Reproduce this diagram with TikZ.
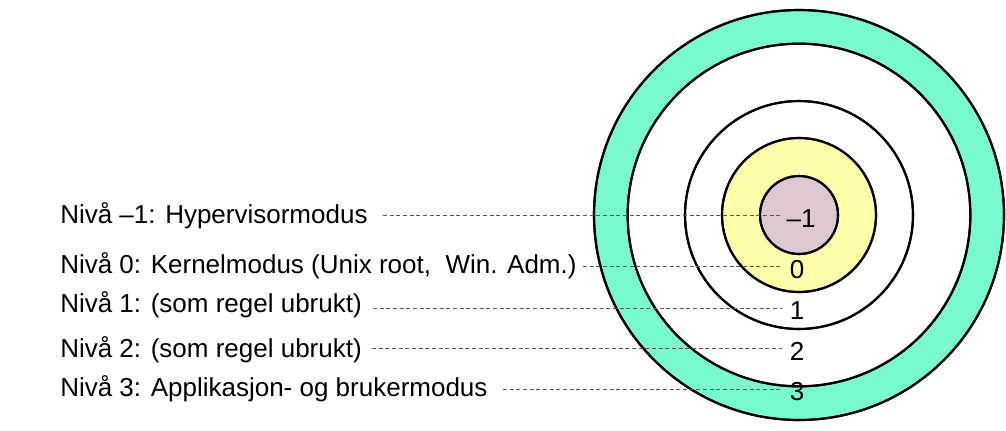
\documentclass[tikz,border=0pt]{standalone}
\usepackage{fontspec}
\setmainfont{Liberation Sans}
\begin{document}
\begin{tikzpicture}[x=0.75pt,y=-0.75pt,
  ring/.style={draw=black,line width=1.6pt},
  lbl/.style={anchor=west,font=\fontsize{15.3}{18}\selectfont,inner sep=0pt},
  num/.style={font=\fontsize{15.3}{18}\selectfont,inner sep=1pt},
  lead/.style={draw=black!65,line width=0.6pt,dash pattern=on 3pt off 2pt}]
\useasboundingbox (0,0) rectangle (1006,430);
\coordinate (c) at (799,215);
\fill[ring,fill={rgb,255:red,120;green,250;blue,205}] (c) circle[radius=153.75pt];
\fill[ring,fill=white] (c) circle[radius=128.5pt];
\fill[ring,fill=white] (c) circle[radius=85.5pt];
\fill[ring,fill={rgb,255:red,255;green,255;blue,170}] (c) circle[radius=57.75pt];
\fill[ring,fill={rgb,255:red,222;green,200;blue,208}] (c) circle[radius=29.25pt];
\draw[ring] (c) circle[radius=153.75pt] (c) circle[radius=128.5pt] (c) circle[radius=85.5pt] (c) circle[radius=57.75pt] (c) circle[radius=29.25pt];
\node[lbl,font=\fontsize{19.5}{22}\selectfont] (l1) at (60,216) {Nivå –1: Hypervisormodus};
\node[lbl,font=\fontsize{19.5}{22}\selectfont] (l0) at (60,266) {Nivå 0: Kernelmodus (Unix root,\ \ Win. Adm.)};
\node[lbl,font=\fontsize{19.5}{22}\selectfont] (la) at (60,305) {Nivå 1: (som regel ubrukt)};
\node[lbl,font=\fontsize{19.5}{22}\selectfont] (lb) at (60,350) {Nivå 2: (som regel ubrukt)};
\node[lbl,font=\fontsize{19.5}{22}\selectfont] (lc) at (60,389) {Nivå 3: Applikasjon- og brukermodus};
\node[num,font=\fontsize{19.5}{22}\selectfont] (n1) at (801,219) {–1};
\node[num,font=\fontsize{19.5}{22}\selectfont] (n0) at (797,270) {0};
\node[num,font=\fontsize{19.5}{22}\selectfont] (na) at (797,311) {1};
\node[num,font=\fontsize{19.5}{22}\selectfont] (nb) at (797,351) {2};
\node[num,font=\fontsize{19.5}{22}\selectfont] (nc) at (797,392) {3};
\coordinate (s1) at (383,215); \coordinate (e1) at (782,215);
\coordinate (s0) at (583,266); \coordinate (e0) at (782,266);
\coordinate (sa) at (373,308); \coordinate (ea) at (782,308);
\coordinate (sb) at (372,348); \coordinate (eb) at (782,348);
\coordinate (sc) at (503,389); \coordinate (ec) at (782,389);
\draw[lead] (s1) -- (e1);
\draw[lead] (s0) -- (e0);
\draw[lead] (sa) -- (ea);
\draw[lead] (sb) -- (eb);
\draw[lead] (sc) -- (ec);
\end{tikzpicture}
\end{document}
